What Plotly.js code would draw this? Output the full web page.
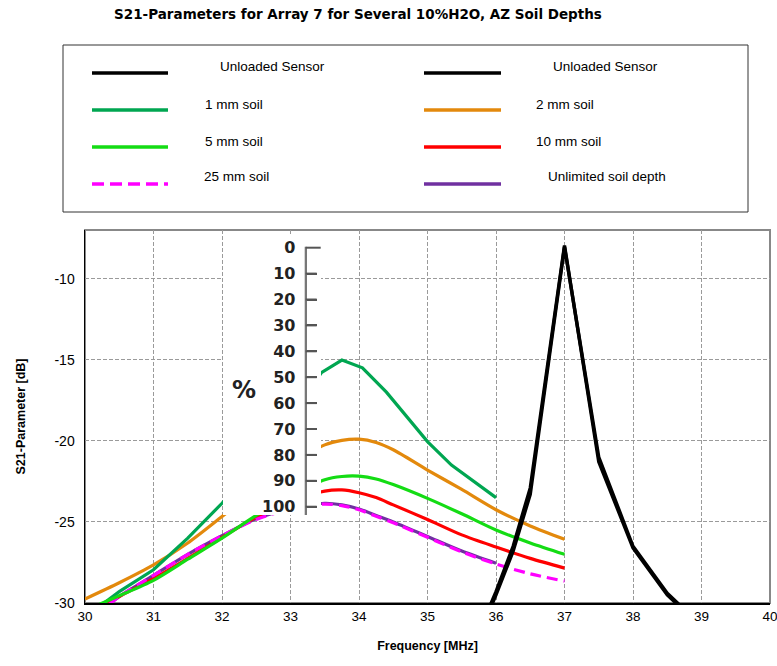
<!DOCTYPE html>
<html>
<head>
<meta charset="utf-8">
<script src="https://cdn.plot.ly/plotly-3.0.1.min.js"></script>
<style>
html,body{margin:0;padding:0;background:#fff;}
#chart{width:777px;height:666px;}
</style>
</head>
<body>
<div id="chart"></div>
<script>
// ---------------- DATA ----------------
const freqUnloadedA = [35.9, 36.0, 36.25, 36.5, 37.0, 37.5, 38.0, 38.5, 38.7];
const s21UnloadedA  = [-30.3, -29.3, -26.5, -22.9, -7.95, -21.3, -26.6, -29.5, -30.3];
const freqUnloadedB = [35.9, 36.0, 36.25, 36.5, 37.0, 37.5, 38.0, 38.5, 38.7];
const s21UnloadedB  = [-30.5, -29.5, -26.8, -23.3, -8.05, -21.0, -26.5, -29.4, -30.2];

const freq1mm = [30.2, 30.5, 31.0, 31.5, 32.0, 32.5, 33.0, 33.45, 33.75, 34.05, 34.4, 35.0, 35.35, 35.7, 36.0];
const s21_1mm = [-30.25, -29.3, -27.95, -26.0, -23.85, -21.5, -18.5, -15.8, -15.02, -15.5, -17.0, -20.05, -21.5, -22.6, -23.5];

const freq2mm = [30.0, 30.5, 31.0, 31.5, 32.0, 32.5, 33.0, 33.5, 33.75, 34.0, 34.25, 34.5, 35.0, 35.5, 36.0, 36.5, 37.0];
const s21_2mm = [-29.75, -28.75, -27.65, -26.3, -24.67, -23.0, -21.5, -20.25, -19.97, -19.9, -20.1, -20.55, -21.8, -23.0, -24.25, -25.25, -26.07];

const freq5mm = [30.2, 30.5, 31.0, 31.5, 32.0, 32.5, 33.0, 33.5, 33.75, 34.0, 34.25, 34.5, 35.0, 35.5, 36.0, 36.5, 37.0];
const s21_5mm = [-30.1, -29.55, -28.6, -27.3, -26.0, -24.6, -23.4, -22.4, -22.2, -22.18, -22.35, -22.7, -23.55, -24.5, -25.5, -26.3, -27.0];

const freq10mm = [30.3, 30.5, 31.0, 31.5, 32.0, 32.5, 33.0, 33.5, 33.75, 34.0, 34.25, 34.5, 35.0, 35.5, 36.0, 36.5, 37.0];
const s21_10mm = [-30.1, -29.6, -28.5, -27.25, -25.95, -24.7, -23.7, -23.1, -23.03, -23.2, -23.5, -23.95, -24.85, -25.8, -26.55, -27.25, -27.85];

const freq25mm = [30.35, 30.5, 31.0, 31.5, 32.0, 32.5, 33.0, 33.5, 33.75, 34.0, 34.25, 34.5, 35.0, 35.5, 36.0, 36.5, 37.0];
const s21_25mm = [-30.1, -29.6, -28.3, -27.0, -25.85, -24.85, -24.2, -23.9, -24.0, -24.25, -24.65, -25.05, -25.95, -26.85, -27.6, -28.2, -28.65];

const freqUnlim = [30.35, 30.5, 31.0, 31.5, 32.0, 32.5, 33.0, 33.5, 33.75, 34.0, 34.25, 34.5, 35.0, 35.5, 36.0];
const s21Unlim  = [-30.1, -29.6, -28.3, -27.0, -25.85, -24.8, -24.2, -23.85, -23.95, -24.2, -24.6, -25.0, -25.9, -26.8, -27.55];

const legendNames = ['Unloaded Sensor', 'Unloaded Sensor', '1 mm soil', '2 mm soil',
                     '5 mm soil', '10 mm soil', '25 mm soil', 'Unlimited soil depth'];

const xTickVals = [30, 31, 32, 33, 34, 35, 36, 37, 38, 39, 40];
const yTickVals = [-30, -25, -20, -15, -10];
const yTickText = ['-30', '-25', '-20', '-15', '-10'];
const pctTickVals = [0, 10, 20, 30, 40, 50, 60, 70, 80, 90, 100];
const pctRange = [103.2, 0];

// ---------------- STYLE ----------------
const C_BLACK = '#000000', C_TEAL = '#00a651', C_ORANGE = '#e3890c',
      C_GREEN = '#14dc14', C_RED = '#ff0000', C_MAG = '#ff00ff', C_PURPLE = '#7030a0';
const FONT = 'Liberation Sans, Arial, sans-serif';

function ln(x, y, name, color, opts) {
  return Object.assign({
    type: 'scatter', mode: 'lines', x: x, y: y, name: name,
    line: {color: color, width: 3.2}, showlegend: false, hoverinfo: 'x+y+name'
  }, opts || {});
}
const spl = {shape: 'spline', smoothing: 0.8};

const traces = [
  ln(freqUnlim, s21Unlim, legendNames[7], C_PURPLE, {line: Object.assign({color: C_PURPLE, width: 3.2}, spl)}),
  ln(freq10mm, s21_10mm, legendNames[5], C_RED, {line: Object.assign({color: C_RED, width: 3.2}, spl)}),
  ln(freq25mm, s21_25mm, legendNames[6], C_MAG, {line: Object.assign({color: C_MAG, width: 3.2, dash: '11px,6px'}, spl)}),
  ln(freq2mm, s21_2mm, legendNames[3], C_ORANGE, {line: Object.assign({color: C_ORANGE, width: 3.2}, spl)}),
  ln(freq1mm, s21_1mm, legendNames[2], C_TEAL),
  ln(freq5mm, s21_5mm, legendNames[4], C_GREEN, {line: Object.assign({color: C_GREEN, width: 3.2}, spl)}),
  ln(freqUnloadedA, s21UnloadedA, legendNames[0], C_BLACK, {line: {color: C_BLACK, width: 3.4}}),
  ln(freqUnloadedB, s21UnloadedB, legendNames[1], C_BLACK, {line: {color: C_BLACK, width: 3.4}}),
  // white inset panel (subplot x2y2) and its percentage axis (subplot x3y3); no data
  {type: 'scatter', mode: 'lines', x: [], y: [], xaxis: 'x2', yaxis: 'y2', showlegend: false, hoverinfo: 'skip'},
  {type: 'scatter', mode: 'lines', x: [], y: [], xaxis: 'x3', yaxis: 'y3', showlegend: false, hoverinfo: 'skip'}
];

// ---------------- LAYOUT HELPERS (pixel -> paper) ----------------
const L = 85, R = 770, T = 230, B = 603;
const PX = px => (px - L) / (R - L);
const PY = py => (B - py) / (B - T);

// inset axis geometry (pixels)
const INSET_TOP = 247.7, INSET_BOT = 515, INSET_LINE_X = 305.7;
const pctToPy = v => INSET_TOP + (v - pctRange[1]) / (pctRange[0] - pctRange[1]) * (INSET_BOT - INSET_TOP);

// legend layout: [name index, line x0, line x1, text center x, row]
const legendSlots = [
  [0, 92, 168, 272, 0], [1, 424, 501, 605, 0],
  [2, 92, 168, 234, 1], [3, 424, 501, 565, 1],
  [4, 92, 168, 234, 2], [5, 424, 501, 568, 2],
  [6, 92, 168, 236, 3], [7, 424, 501, 607, 3]
];
const legendStyle = [
  {color: C_BLACK}, {color: C_BLACK}, {color: C_TEAL}, {color: C_ORANGE},
  {color: C_GREEN}, {color: C_RED}, {color: C_MAG, dash: '12px,6px'}, {color: C_PURPLE}
];
const rowLineY = [73, 110, 147, 184];
const rowTextY = [67, 104, 141, 177];

const shapes = [
  // grey frame around the plot area
  {type: 'rect', xref: 'paper', yref: 'paper', x0: 0, x1: 1, y0: 0, y1: 1,
   line: {color: '#888', width: 2}, fillcolor: 'rgba(0,0,0,0)', layer: 'below'},
  // legend box
  {type: 'rect', xref: 'paper', yref: 'paper', x0: PX(63), x1: PX(748), y0: PY(212), y1: PY(45),
   line: {color: '#333', width: 1}, fillcolor: 'rgba(0,0,0,0)', layer: 'above'},
  // inset axis spine (reinforces the y3 axis line)
  {type: 'line', xref: 'paper', yref: 'paper', x0: PX(INSET_LINE_X), x1: PX(INSET_LINE_X),
   y0: PY(INSET_TOP - 1), y1: PY(INSET_BOT), line: {color: '#777', width: 2}, layer: 'above'}
];
// inset axis tick marks at the y3 tick values
pctTickVals.forEach((v, i) => {
  const py = pctToPy(v);
  shapes.push({type: 'line', xref: 'paper', yref: 'paper', x0: PX(INSET_LINE_X),
    x1: PX(INSET_LINE_X + (i === 0 ? 15 : 11)), y0: PY(py), y1: PY(py),
    line: {color: '#555', width: 2}, layer: 'above'});
});

const annotations = [
  {xref: 'paper', yref: 'paper', x: PX(244), y: PY(390), text: '%', showarrow: false,
   xanchor: 'center', yanchor: 'middle',
   font: {family: 'DejaVu Sans, sans-serif', size: 24, color: '#222', weight: 'bold'}}
];
legendSlots.forEach(s => {
  const st = legendStyle[s[0]];
  shapes.push({type: 'line', xref: 'paper', yref: 'paper', x0: PX(s[1]), x1: PX(s[2]),
    y0: PY(rowLineY[s[4]]), y1: PY(rowLineY[s[4]]),
    line: {color: st.color, width: 3.5, dash: st.dash || 'solid'}, layer: 'above'});
  annotations.push({xref: 'paper', yref: 'paper', x: PX(s[3]), y: PY(rowTextY[s[4]]),
    xanchor: 'center', yanchor: 'middle', showarrow: false, text: legendNames[s[0]],
    font: {family: FONT, size: 13.5, color: '#000'}});
});

// an axis that exists (so its subplot is laid out) but shows nothing
const hiddenAxis = (domain, anchor) => ({
  domain: domain, anchor: anchor, range: [0, 1], visible: true, showline: false, showgrid: false,
  zeroline: false, ticks: '', showticklabels: false, fixedrange: true, linewidth: 1
});

const layout = {
  width: 777, height: 666,
  margin: {l: L, r: 777 - R, t: T, b: 666 - B},
  paper_bgcolor: '#fff', plot_bgcolor: '#fff',
  showlegend: false,
  font: {family: FONT, color: '#000', size: 13},
  title: {text: 'S21-Parameters for Array 7 for Several 10%H2O, AZ Soil Depths',
          x: 358 / 777, xanchor: 'center', y: 1 - 14 / 666, yanchor: 'middle',
          font: {family: 'DejaVu Sans, sans-serif', size: 13.5, weight: 'bold', color: '#000'}},
  xaxis: {
    range: [30, 40], tickvals: xTickVals, showgrid: true, gridcolor: '#9a9a9a', griddash: '4px,2px',
    gridwidth: 1, zeroline: false, showline: true, linecolor: '#000', linewidth: 1.5,
    ticks: '', tickfont: {size: 13.5, family: FONT}, ticklabeloverflow: 'allow',
    title: {text: 'Frequency [MHz]', font: {size: 12.5, weight: 'bold', family: FONT}, standoff: 18}
  },
  yaxis: {
    range: [-30, -7], tickvals: yTickVals, ticktext: yTickText, showgrid: true, gridcolor: '#9a9a9a',
    griddash: '4px,2px', gridwidth: 1, zeroline: false, showline: true, linecolor: '#000', linewidth: 1.5,
    ticks: '', ticklabelstandoff: 6, tickfont: {size: 14, family: FONT},
    title: {text: 'S21-Parameter [dB]', font: {size: 12.5, weight: 'bold', family: FONT}, standoff: 26}
  },
  // white inset panel
  xaxis2: hiddenAxis([PX(223), PX(321)], 'y2'),
  yaxis2: hiddenAxis([PY(515), PY(235)], 'x2'),
  // percentage axis of the inset
  xaxis3: hiddenAxis([PX(306.7), PX(321)], 'y3'),
  yaxis3: {
    domain: [PY(INSET_BOT), PY(INSET_TOP)], anchor: 'x3', side: 'left',
    range: pctRange, tickvals: pctTickVals, showgrid: false, zeroline: false,
    showline: true, linecolor: '#777', linewidth: 2,
    ticks: 'inside', ticklen: 10, tickwidth: 2, tickcolor: '#555',
    ticklabelstandoff: 6,
    tickfont: {family: 'DejaVu Sans, sans-serif', size: 16, weight: 'bold', color: '#222'},
    fixedrange: true
  },
  shapes: shapes,
  annotations: annotations
};

Plotly.newPlot('chart', traces, layout, {displayModeBar: false, staticPlot: true});
</script>
</body>
</html>
